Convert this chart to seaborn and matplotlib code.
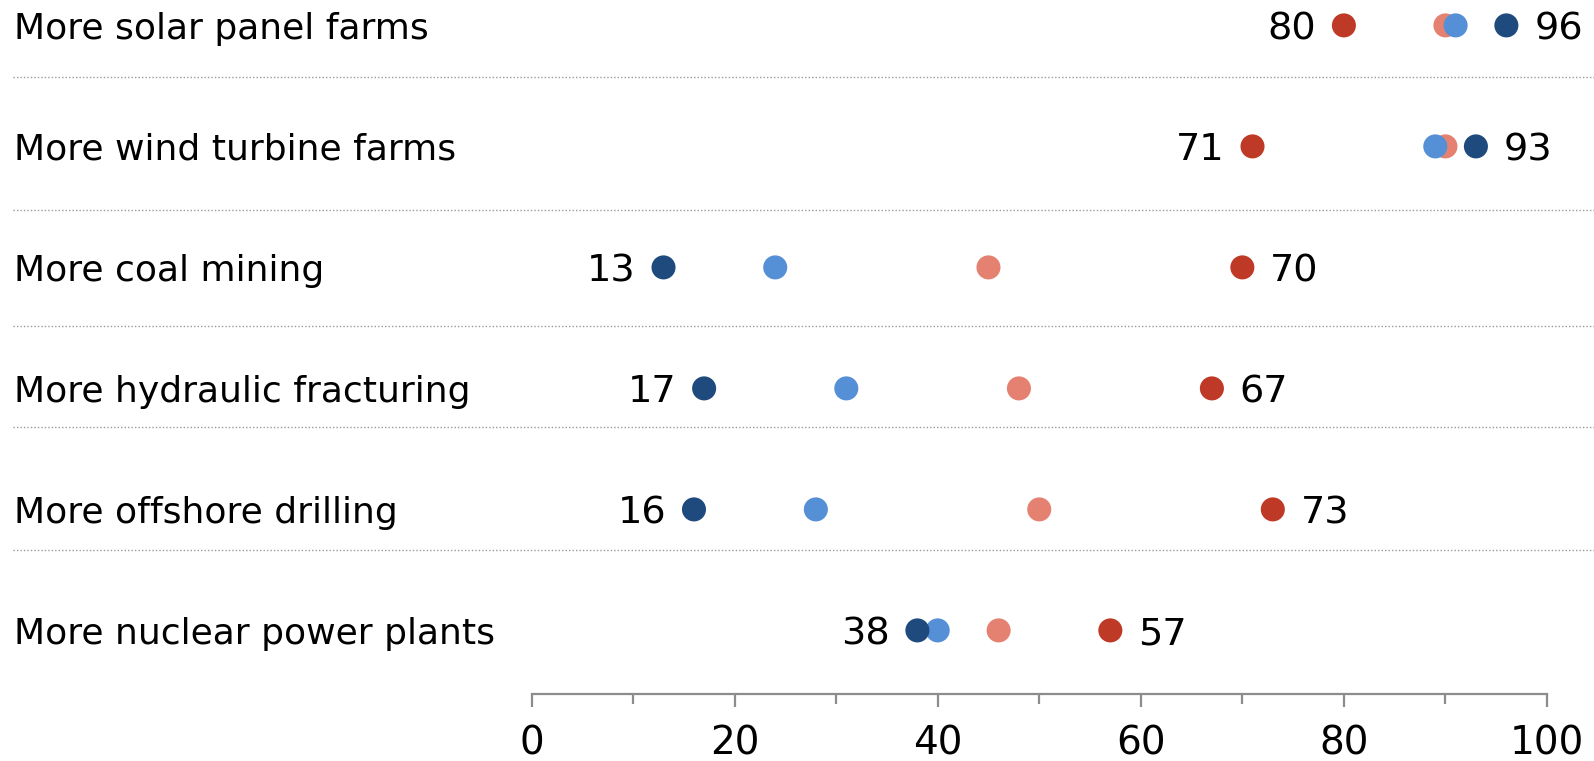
import numpy as np
import pandas as pd
import matplotlib
matplotlib.use("Agg")
import matplotlib.pyplot as plt
from matplotlib.ticker import FixedLocator
import seaborn as sns

# ---- data ----
categories = [
    "More solar panel farms",
    "More wind turbine farms",
    "More coal mining",
    "More hydraulic fracturing",
    "More offshore drilling",
    "More nuclear power plants",
]
series_names = ["Conservative Rep", "Moderate/liberal Rep", "Conservative/moderate Dem", "Liberal Dem"]
conservative_rep = [80, 71, 70, 67, 73, 57]
moderate_rep = [90, 90, 45, 48, 50, 46]
moderate_dem = [91, 89, 24, 31, 28, 40]
liberal_dem = [96, 93, 13, 17, 16, 38]
tick_values = [0, 20, 40, 60, 80, 100]
minor_tick_values = [10, 30, 50, 70, 90]

# ---- style ----
colors = ["#bf3927", "#e58171", "#558fd6", "#1f4a7d"]
W, H = 1594, 761
sns.set_style("white")
plt.rcParams["font.family"] = ["DejaVu Sans"]

values = [conservative_rep, moderate_rep, moderate_dem, liberal_dem]
rows = []
for name, vals in zip(series_names, values):
    for i, v in enumerate(vals):
        rows.append({"group": name, "row": i, "value": v})
df = pd.DataFrame(rows)

fig = plt.figure(figsize=(W / 100, H / 100), dpi=100)
ax_bottom_px = 67
ax = fig.add_axes([0, ax_bottom_px / H, 1, 1 - ax_bottom_px / H])

px_per_unit = (1547 - 531.5) / 100
x0_px = 531.5
ax.set_xlim(-x0_px / px_per_unit, (W - x0_px) / px_per_unit)
row_px0, row_step = 25.4, 121.0
ax_h = H - ax_bottom_px
ax.set_ylim((ax_h - row_px0) / row_step, -row_px0 / row_step)

# separators (pixel rows converted to data units)
sep_px = [77, 210, 326, 427, 550]
for p in sep_px:
    ax.axhline((p - row_px0) / row_step, xmin=13 / W, xmax=1, color="#9a9a9a",
               lw=1.0, linestyle=(0, (1, 1.5)), zorder=1)

sns.scatterplot(data=df, x="value", y="row", hue="group", hue_order=series_names,
                palette=colors, s=300, linewidth=0, ax=ax, legend=False, zorder=3)

# category labels
for i, c in enumerate(categories):
    ax.text(14 / W, i, c, transform=ax.get_yaxis_transform(), ha="left",
            va="center_baseline", fontsize=26, color="#000000")

# value labels at the extremes
for i in range(len(categories)):
    vals = [s[i] for s in values]
    lo, hi = min(vals), max(vals)
    ax.annotate(f"{lo}", (lo, i), xytext=(-20, 0), textcoords="offset points",
                ha="right", va="center_baseline", fontsize=27.5, color="#000000")
    ax.annotate(f"{hi}", (hi, i), xytext=(20, 0), textcoords="offset points",
                ha="left", va="center_baseline", fontsize=27.5, color="#000000")

# axis
for s in ["top", "left", "right"]:
    ax.spines[s].set_visible(False)
ax.spines["bottom"].set_visible(True)
ax.spines["bottom"].set_bounds(0, 100)
ax.spines["bottom"].set_color("#8c8c8c")
ax.spines["bottom"].set_linewidth(1.6)
ax.xaxis.set_major_locator(FixedLocator(tick_values))
ax.xaxis.set_minor_locator(FixedLocator(minor_tick_values))
ax.set_xticklabels([str(t) for t in tick_values])
ax.tick_params(axis="x", which="major", direction="out", length=9.5, width=1.6,
               color="#8c8c8c", labelsize=28, pad=12.5, labelcolor="#000000", bottom=True)
ax.tick_params(axis="x", which="minor", direction="out", length=7.2, width=1.6,
               color="#8c8c8c", bottom=True)
ax.set_yticks([])
ax.set_xlabel("")
ax.set_ylabel("")
ax.grid(False)

fig.savefig("out.png", dpi=100)
